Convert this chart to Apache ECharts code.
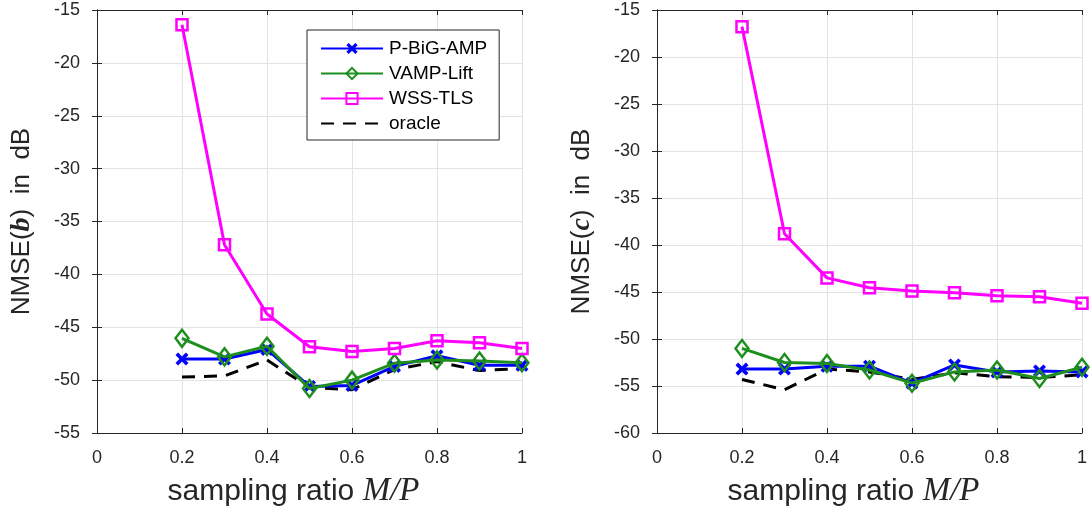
<!DOCTYPE html>
<html><head><meta charset="utf-8">
<script src="https://cdn.jsdelivr.net/npm/echarts@6/dist/echarts.min.js"></script>
<style>html,body{margin:0;padding:0;background:#fff}#c{width:1091px;height:514px}</style>
</head><body><div id="c"></div>
<script>
const ratios = [0.2, 0.3, 0.4, 0.5, 0.6, 0.7, 0.8, 0.9, 1.0];
const seriesNames = ['P-BiG-AMP', 'VAMP-Lift', 'WSS-TLS', 'oracle'];
// Left panel: NMSE(b)
const bPBiGAMP = [-48.0, -48.0, -47.1, -50.6, -50.5, -48.7, -47.7, -48.6, -48.6];
const bVAMPLift = [-46.05, -47.8, -46.8, -50.8, -50.0, -48.4, -48.1, -48.2, -48.35];
const bWSSTLS  = [-16.4, -37.2, -43.75, -46.84, -47.3, -47.0, -46.27, -46.46, -47.0];
const bOracle  = [-49.7, -49.6, -48.1, -50.7, -50.9, -49.0, -48.25, -49.1, -48.9];
// Right panel: NMSE(c)
const cPBiGAMP = [-53.2, -53.2, -52.9, -52.9, -54.7, -52.76, -53.5, -53.4, -53.5];
const cVAMPLift = [-51.0, -52.5, -52.6, -53.3, -54.7, -53.5, -53.3, -54.2, -53.0];
const cWSSTLS  = [-16.77, -38.8, -43.5, -44.55, -44.9, -45.08, -45.4, -45.5, -46.2];
const cOracle  = [-54.3, -55.4, -53.2, -53.5, -54.3, -53.6, -54.0, -54.1, -53.8];

const AX = '#262626', GRID = '#e3e3e3';
const FONT = 'Liberation Sans, Arial, sans-serif';
const SERIF = 'Liberation Serif, DejaVu Serif, serif';
const xMark = 'path://M2,0 L5,3 L8,0 L10,2 L7,5 L10,8 L8,10 L5,7 L2,10 L0,8 L3,5 L0,2 Z';

function pts(arr){ return ratios.map((r,i)=>[r, arr[i]]); }

function makeSeries(idx, data){
  const [pb, vl, wt, or] = data;
  const xi = idx*2, yi = idx*2;
  return [
    {name: seriesNames[0], type:'line', xAxisIndex:xi, yAxisIndex:yi, data:pts(pb),
     symbol:xMark, symbolSize:13, lineStyle:{color:'#0000ff', width:3},
     itemStyle:{color:'#0000ff'}, z:3},
    {name: seriesNames[1], type:'line', xAxisIndex:xi, yAxisIndex:yi, data:pts(vl),
     symbol:'diamond', symbolSize:[13,17], lineStyle:{color:'#1e8f1e', width:3},
     itemStyle:{color:'rgba(0,0,0,0)', borderColor:'#1e8f1e', borderWidth:2.5}, z:4},
    {name: seriesNames[2], type:'line', xAxisIndex:xi, yAxisIndex:yi, data:pts(wt),
     symbol:'rect', symbolSize:11, lineStyle:{color:'#ff00ff', width:3},
     itemStyle:{color:'rgba(0,0,0,0)', borderColor:'#ff00ff', borderWidth:2.5}, z:5},
    {name: seriesNames[3], type:'line', xAxisIndex:xi, yAxisIndex:yi, data:pts(or),
     symbol:'none', lineStyle:{color:'#000', width:3, type:[13,9]},
     itemStyle:{color:'#000'}, z:2}
  ];
}

function xAxes(gi){
  return [
    {type:'value', gridIndex:gi, min:0, max:1, interval:0.2, position:'bottom',
     name:'{t|sampling ratio }{m|M/P}', nameLocation:'middle', nameGap:42,
     nameTextStyle:{padding:[0,32,0,0], rich:{t:{fontFamily:FONT, fontSize:30, color:AX}, m:{fontFamily:SERIF, fontStyle:'italic', fontSize:33, color:AX}}},
     axisLine:{show:true, lineStyle:{color:AX, width:1}},
     axisTick:{show:true, inside:true, length:5, lineStyle:{color:AX}},
     axisLabel:{color:AX, fontFamily:FONT, fontSize:18, margin:16},
     splitLine:{show:true, lineStyle:{color:GRID, width:1}}},
    {type:'value', gridIndex:gi, min:0, max:1, interval:0.2, position:'top',
     axisLine:{show:true, lineStyle:{color:AX, width:1}},
     axisTick:{show:true, inside:true, length:5, lineStyle:{color:AX}},
     axisLabel:{show:false}, splitLine:{show:false}}
  ];
}
function yAxes(gi, min, letter){
  return [
    {type:'value', gridIndex:gi, min:min, max:-15, interval:5, position:'left',
     name:'{t|NMSE(}{b|' + letter + '}{t|)  in  dB}', nameLocation:'middle', nameRotate:90, nameGap:61,
     nameTextStyle:{rich:{t:{fontFamily:FONT, fontSize:26, color:AX}, b:{fontFamily:SERIF, fontStyle:'italic', fontWeight:'bold', fontSize:28, color:AX}}},
     axisLine:{show:true, lineStyle:{color:AX, width:1}},
     axisTick:{show:true, inside:true, length:5, lineStyle:{color:AX}},
     axisLabel:{color:AX, fontFamily:FONT, fontSize:18, margin:17},
     splitLine:{show:true, lineStyle:{color:GRID, width:1}}},
    {type:'value', gridIndex:gi, min:min, max:-15, interval:5, position:'right',
     axisLine:{show:true, lineStyle:{color:AX, width:1}},
     axisTick:{show:true, inside:true, length:5, lineStyle:{color:AX}},
     axisLabel:{show:false}, splitLine:{show:false}}
  ];
}

const chart = echarts.init(document.getElementById('c'), null, {renderer:'canvas'});
chart.setOption({
  animation:false,
  backgroundColor:'#fff',
  grid:[
    {left:97, top:10, width:425, height:423},
    {left:657, top:10, width:425, height:423}
  ],
  xAxis:[...xAxes(0), ...xAxes(1)],
  yAxis:[...yAxes(0, -55, 'b'), ...yAxes(1, -60, 'c')],
  legend:{
    data:[seriesNames[0], seriesNames[1], seriesNames[2],
          {name:seriesNames[3], itemStyle:{color:'rgba(0,0,0,0)', borderColor:'rgba(0,0,0,0)', borderWidth:0}}],
    left:307, top:30, orient:'vertical',
    itemWidth:62, itemHeight:14, itemGap:6,
    padding:[9,12,7,13],
    backgroundColor:'#fff', borderColor:'#262626', borderWidth:1,
    textStyle:{fontFamily:FONT, fontSize:19, color:'#000', padding:[0,0,0,1]},
    selectedMode:false
  },
  series:[
    ...makeSeries(0, [bPBiGAMP, bVAMPLift, bWSSTLS, bOracle]),
    ...makeSeries(1, [cPBiGAMP, cVAMPLift, cWSSTLS, cOracle])
  ]
});
</script></body></html>
